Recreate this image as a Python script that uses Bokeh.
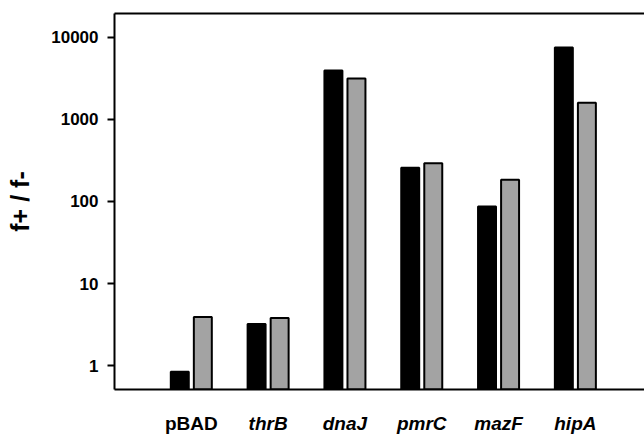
from bokeh.plotting import figure
from bokeh.layouts import column
from bokeh.models import (ColumnDataSource, FixedTicker, NumeralTickFormatter,
                          LinearAxis, Range1d)
from bokeh.transform import dodge
from bokeh.core.properties import value
from bokeh.embed import file_html
from bokeh.resources import INLINE

# ---- data ----
categories = ["pBAD", "thrB", "dnaJ", "pmrC", "mazF", "hipA"]
label_styles = ["bold", "bold italic", "bold italic", "bold italic", "bold italic", "bold italic"]
series_black = [0.84, 3.2, 3950, 258, 87, 7550]
series_gray = [3.9, 3.8, 3150, 293, 184, 1600]
y_ticks = [1, 10, 100, 1000, 10000]

FONT = "Liberation Sans"
Y_START, Y_END = 0.51, 19600

xs = list(range(1, len(categories) + 1))
src = ColumnDataSource(dict(
    x=xs,
    cat=categories,
    black=series_black,
    gray=series_gray,
    style=label_styles,
))

x_range = Range1d(0, 6.9)

p = figure(width=644, height=391, y_axis_type="log",
           x_range=x_range, y_range=Range1d(Y_START, Y_END),
           output_backend="svg", toolbar_location=None,
           min_border_left=114, min_border_right=0,
           min_border_top=13, min_border_bottom=2)
p.grid.visible = False
p.outline_line_color = None

bar_w = 0.234
p.vbar(x=dodge("x", -0.15, range=x_range), top="black", bottom=0.3, width=bar_w,
       source=src, fill_color="black", line_color="black", line_width=2)
p.vbar(x=dodge("x", 0.15, range=x_range), top="gray", bottom=0.3, width=bar_w,
       source=src, fill_color="#a3a3a3", line_color="black", line_width=2)

# x axis: line only
xa = p.xaxis[0]
xa.ticker = FixedTicker(ticks=[])
xa.axis_line_width = 2
xa.axis_line_color = "black"
xa.major_tick_line_color = None
xa.minor_tick_line_color = None
xa.major_label_standoff = 0
xa.major_tick_out = 0

# y axis
ya = p.yaxis[0]
ya.ticker = FixedTicker(ticks=y_ticks, minor_ticks=[])
ya.formatter = NumeralTickFormatter(format="0")
ya.axis_line_width = 2
ya.axis_line_color = "black"
ya.major_tick_out = 7
ya.major_tick_in = 0
ya.major_tick_line_width = 2
ya.minor_tick_line_color = None
ya.major_label_text_font = FONT
ya.major_label_text_font_size = "17px"
ya.major_label_text_font_style = "bold"
ya.major_label_text_color = "black"
ya.major_label_standoff = 9
ya.axis_label = "f+ / f-"
ya.axis_label_text_font = FONT
ya.axis_label_text_font_size = "25px"
ya.axis_label_text_font_style = "bold"
ya.axis_label_text_color = "black"
ya.axis_label_standoff = 14

# top border line
top = LinearAxis(ticker=FixedTicker(ticks=[]), axis_line_width=2, axis_line_color="black",
                 major_tick_line_color=None, minor_tick_line_color=None,
                 major_label_standoff=0, major_tick_out=0)
p.add_layout(top, "above")

# category labels strip (mixed regular / italic)
lab = figure(width=644, height=45, x_range=x_range, y_range=Range1d(0, 45),
             output_backend="svg", toolbar_location=None,
             min_border_left=114, min_border_right=0,
             min_border_top=0, min_border_bottom=0)
lab.axis.visible = False
lab.grid.visible = False
lab.outline_line_color = None
lab.text(x="x", y=13, text="cat", source=src, text_align="center",
         text_baseline="middle", text_font=value(FONT),
         text_font_size="19px", text_font_style="style", text_color="black")

layout = column(p, lab, spacing=0)
open("out.html", "w").write(file_html(layout, INLINE))
